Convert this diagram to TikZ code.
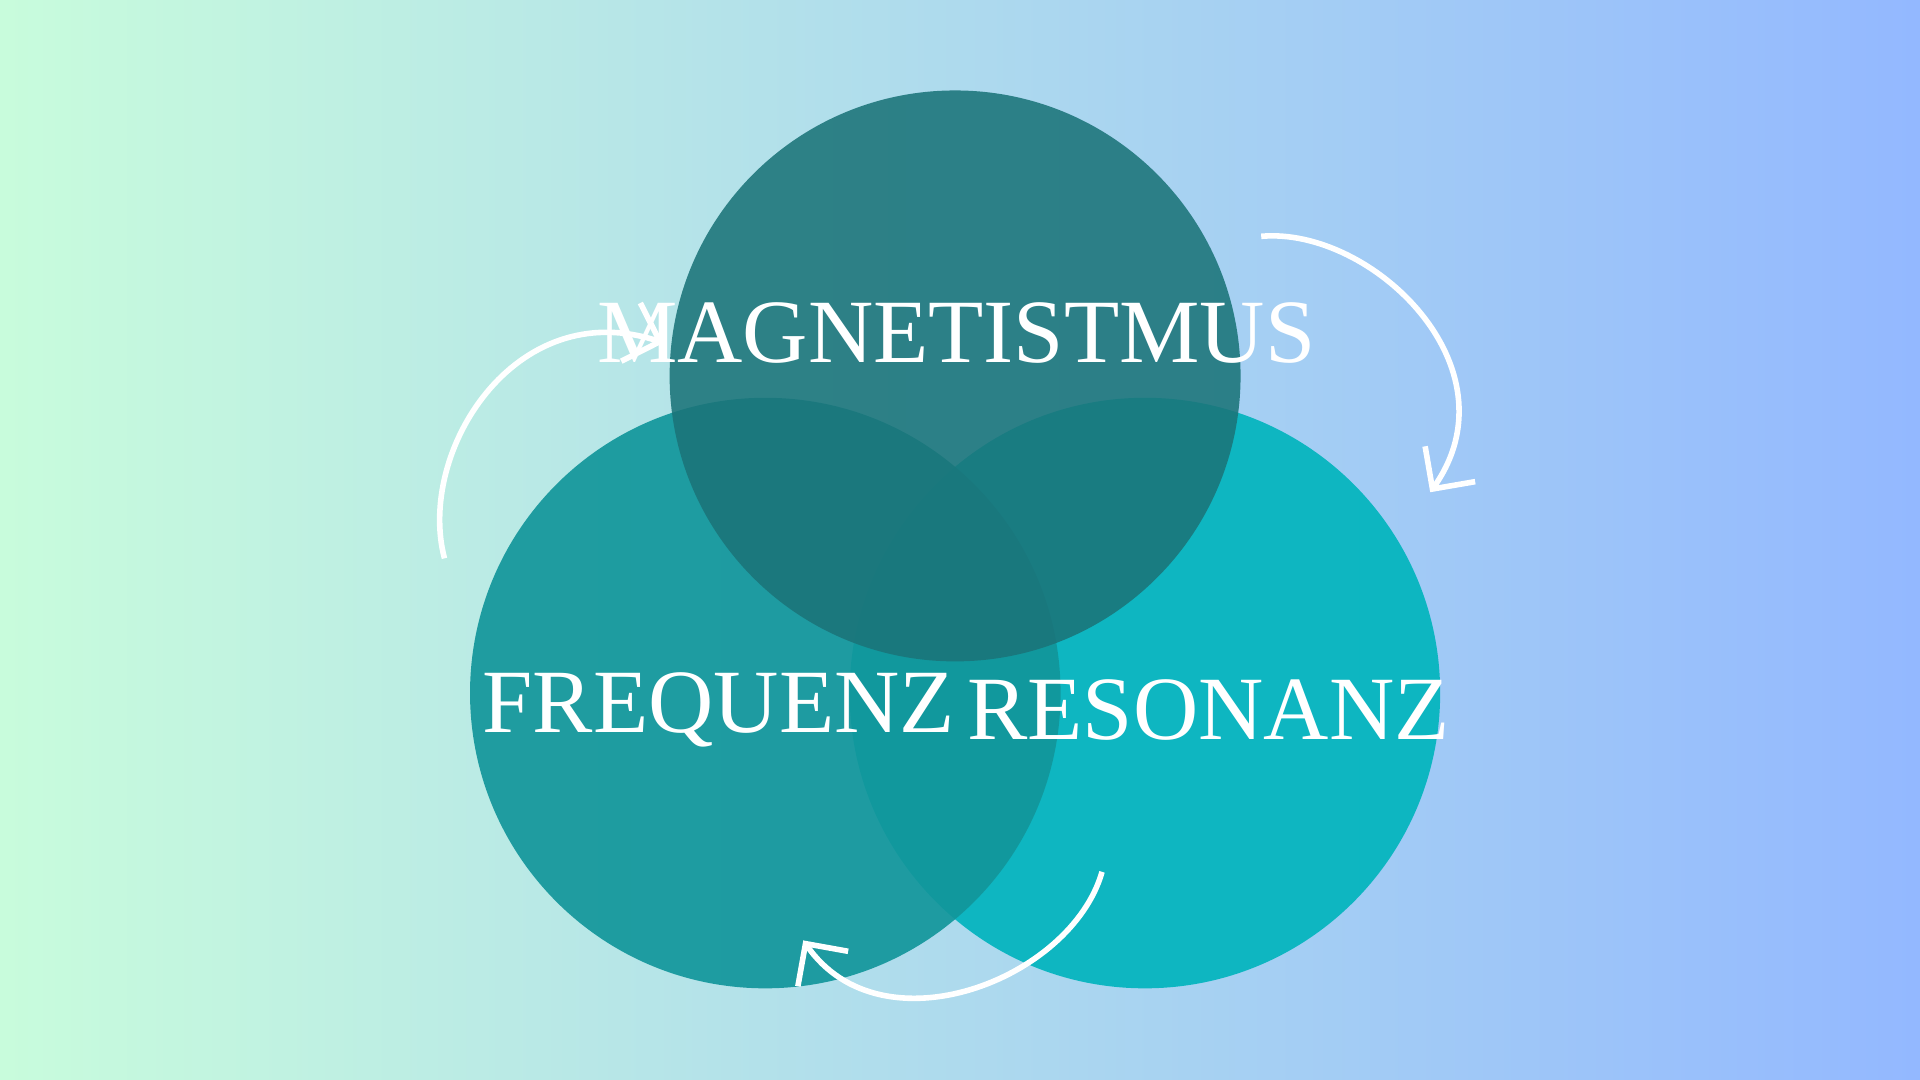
\documentclass[tikz,border=0pt]{standalone}
\usepackage{fontspec}
\setmainfont{Liberation Serif}
\usetikzlibrary{arrows.meta}
\definecolor{bgl}{HTML}{C8FCDC}
\definecolor{bgr}{HTML}{93B8FF}
\definecolor{ctop}{HTML}{1B7479}
\definecolor{cleft}{HTML}{12969B}
\definecolor{cright}{HTML}{06B5BF}
\tikzset{
  lbl/.style={text=white,font=\fontsize{21}{21}\selectfont},
  curvearrow/.style={white,line width=1.3pt,-{Straight Barb[length=2.5mm,width=5mm,line width=1.3pt]}}
}
\begin{document}
\begin{tikzpicture}[x=0.01cm,y=-0.01cm]
\shade[left color=bgl,right color=bgr] (0,0) rectangle (1568,882);
\useasboundingbox (0,0) rectangle (1568,882);
\fill[cright,fill opacity=0.95] (935,566) circle[radius=2.41cm];
\fill[cleft,fill opacity=0.92] (625,566) circle[radius=2.41cm];
\fill[ctop,fill opacity=0.88] (780,307) circle[radius=2.33cm];
\node[lbl] (mag) at (781,272) {MAGNETISTMUS};
\node[lbl] (freq) at (587,580) {FREQUENZ};
\node[lbl] (res) at (987,580) {RESONANZ};
\coordinate (a1s) at (363,456); \coordinate (a1e) at (542,280);
\coordinate (a2s) at (1030,193); \coordinate (a2e) at (1168,402);
\coordinate (a3s) at (900,712); \coordinate (a3e) at (656,768);
\draw[curvearrow] (a1s) .. controls (340,370) and (420,240) .. (a1e);
\draw[curvearrow] (a2s) .. controls (1120,185) and (1240,300) .. (a2e);
\draw[curvearrow] (a3s) .. controls (875,800) and (720,860) .. (a3e);
\end{tikzpicture}
\end{document}
